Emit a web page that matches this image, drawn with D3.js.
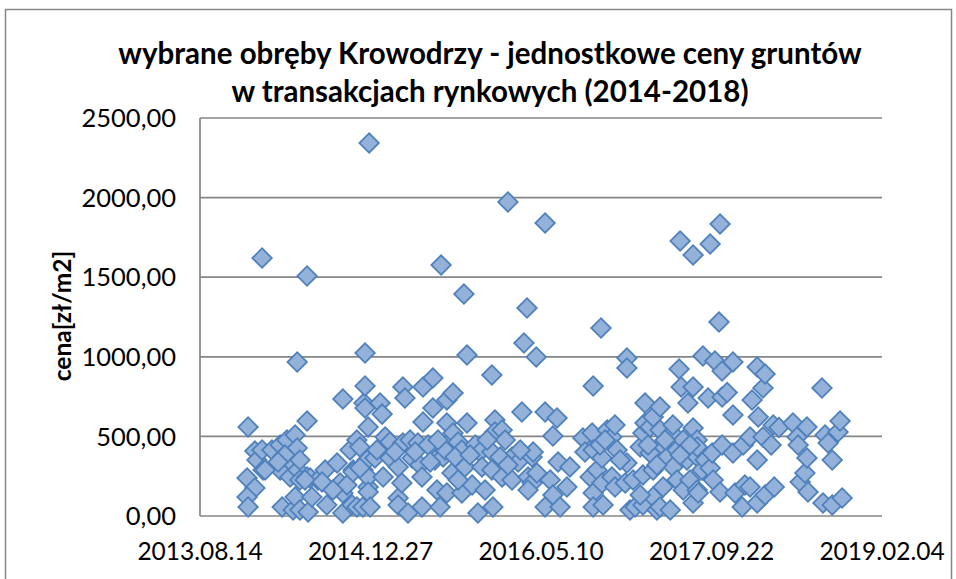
<!DOCTYPE html>
<html>
<head>
<meta charset="utf-8">
<title>Krowodrza - ceny gruntów</title>
<script src="https://d3js.org/d3.v7.min.js"></script>
<style>
  body { margin: 0; background: #fff; }
  text { font-family: Lato, "DejaVu Sans", sans-serif; fill: #000; }
</style>
</head>
<body>
<div id="chart"></div>
<script>
// data: transaction date (Excel serial day) and price [zł/m2]
var saleDay = [41638,41661,41638,41641,41641,41661,41667,41682,41682,41685,41711,41735,41735,41741,41743,41755,41764,41770,41773,41779,
  41779,41785,41785,41787,41793,41793,41793,41814,41814,41814,41817,41823,41828,41846,41867,41872,41902,41902,41911,41919,
  41919,41919,41931,41940,41946,41949,41960,41960,41969,41978,41978,41981,41984,41984,41984,41990,41993,41993,41993,41993,
  41996,41999,42013,42019,42028,42034,42037,42043,42057,42057,42081,42081,42081,42092,42095,42101,42095,42110,42116,42122,
  42139,42145,42151,42151,42154,42154,42169,42183,42183,42189,42195,42204,42207,42213,42219,42224,42224,42224,42239,42242,
  42242,42257,42268,42268,42274,42277,42283,42283,42298,42307,42315,42321,42327,42356,42356,42356,42359,42365,42365,42386,
  42386,42395,42403,42415,42415,42433,42444,42450,42459,42462,42474,42477,42474,42486,42488,42512,42512,42512,42527,42535,
  42535,42547,42550,42556,42576,42585,42623,42629,42644,42650,42653,42653,42653,42653,42664,42676,42679,42679,42682,42694,
  42708,42708,42717,42717,42723,42747,42752,42752,42752,42761,42770,42776,42791,42799,42799,42799,42805,42805,42820,42820,
  42829,42829,42829,42840,42849,42849,42849,42855,42858,42870,42879,42884,42887,42887,42899,42899,42905,42908,42911,42917,
  42917,42928,42931,42937,42946,42946,42946,42946,42958,42958,42958,42958,42961,42972,42975,42981,42990,42996,42996,43002,
  43005,43010,43022,43025,43025,43031,43031,43031,43046,43063,43063,43063,43069,43090,43093,43098,43113,43113,43119,43134,
  43134,43134,43137,43151,43151,43157,43157,43175,43181,43184,43198,43239,43251,43254,43260,43274,43280,43280,43283,43324,
  43327,43333,43342,43354,43354,43371,43377,43383,
  41691,41749,41729,41808,41858,41890,41949,41969,42072,42131,42175,42248,42292,42342,42380,42439,42403,42198,42257,42336,
  42462,42673,42732,42814,42864,42908,42937,42840,42791,42688];

var price = [239,176,119,57,559,408,352,415,1620,289,415,446,289,57,370,477,245,333,38,509,
  119,427,967,289,352,226,38,597,1507,245,25,239,119,226,289,69,333,182,207,735,
  19,144,195,415,69,289,477,57,433,289,57,710,678,816,1024,352,559,182,245,151,
  2343,57,364,415,710,640,245,496,364,465,308,113,69,207,810,741,458,19,477,364,
  458,320,245,57,810,590,446,678,867,352,163,57,1576,370,415,729,584,144,270,773,
  521,465,415,144,1394,308,1011,584,195,446,19,402,308,402,289,886,57,603,528,540,
  245,477,1972,370,226,339,653,1087,1306,245,370,402,207,999,270,1840,653,57,226,502,
  132,615,339,57,182,308,490,402,245,521,816,415,144,57,289,1181,364,207,69,540,
  496,245,572,182,415,207,333,992,930,38,226,57,433,521,258,69,710,584,396,559,
  622,289,119,38,685,540,57,446,182,370,38,521,572,308,415,226,923,1727,810,477,
  163,352,710,226,1639,810,553,82,477,370,163,433,144,289,1005,352,741,1708,301,396,
  226,974,1218,1834,151,911,747,446,776,967,634,396,144,57,446,195,496,182,729,936,
  352,82,622,804,496,892,132,446,572,182,556,584,496,446,214,270,559,364,151,804,
  82,509,458,352,69,528,597,113,
  289,383,339,226,214,163,276,301,402,402,339,370,383,477,370,415,320,477,226,163,
  163,446,352,446,477,383,446,320,132,477];

var xTicks = [41500, 42000, 42500, 43000, 43500];
var yTicks = [0, 500, 1000, 1500, 2000, 2500];
var titleLines = ["wybrane obręby Krowodrzy - jednostkowe ceny gruntów",
                  "w transakcjach rynkowych (2014-2018)"];
var yTitle = "cena[zł/m2]";

var width = 956, height = 579;
var plot = {left: 200, right: 882, top: 118, bottom: 516};

var svg = d3.select("#chart").append("svg")
    .attr("width", width)
    .attr("height", height);

// outer chart frame
svg.append("rect")
    .attr("x", 5.5).attr("y", 9.5)
    .attr("width", 946).attr("height", 600)
    .attr("fill", "#fff")
    .attr("stroke", "#878787")
    .attr("stroke-width", 1.5);

var x = d3.scaleLinear().domain([41500, 43500]).range([plot.left, plot.right]);
var y = d3.scaleLinear().domain([0, 2500]).range([plot.bottom, plot.top]);

var excelEpoch = Date.UTC(1899, 11, 30);
var fmtDate = d3.utcFormat("%Y.%m.%d");
function dayLabel(s) { return fmtDate(new Date(excelEpoch + s * 864e5)); }
function priceLabel(v) { return d3.format(".2f")(v).replace(".", ","); }

// horizontal gridlines
svg.append("g").selectAll("line")
    .data(yTicks)
  .enter().append("line")
    .attr("x1", plot.left).attr("x2", plot.right)
    .attr("y1", function(d) { return y(d); })
    .attr("y2", function(d) { return y(d); })
    .attr("stroke", "#868686")
    .attr("stroke-width", 1.7);

// y axis line
svg.append("line")
    .attr("x1", plot.left).attr("x2", plot.left)
    .attr("y1", plot.top).attr("y2", plot.bottom)
    .attr("stroke", "#868686").attr("stroke-width", 1.7);

svg.append("g").selectAll("text")
    .data(yTicks)
  .enter().append("text")
    .attr("x", 176)
    .attr("y", function(d) { return y(d); })
    .attr("dy", "0.36em")
    .attr("text-anchor", "end")
    .style("font-size", "25.5px")
    .text(priceLabel);

svg.append("g").selectAll("text")
    .data(xTicks)
  .enter().append("text")
    .attr("x", function(d) { return x(d); })
    .attr("y", 551)
    .attr("dy", "0.36em")
    .attr("text-anchor", "middle")
    .style("font-size", "24.5px")
    .text(dayLabel);

svg.append("text")
    .attr("transform", "translate(62,316) rotate(-90)")
    .attr("dy", "0.36em")
    .attr("text-anchor", "middle")
    .style("font-size", "24.5px")
    .style("font-weight", "bold")
    .text(yTitle);

var title = svg.append("g");
title.selectAll("text")
    .data(titleLines)
  .enter().append("text")
    .attr("x", 490)
    .attr("y", function(d, i) { return 64 + i * 38; })
    .attr("text-anchor", "middle")
    .style("font-size", "29.5px")
    .style("font-weight", "bold")
    .text(function(d) { return d; });

// markers: diamonds
var diamond = d3.symbol().type(d3.symbolSquare).size(190);
var points = saleDay.map(function(d, i) { return {day: d, price: price[i]}; });

svg.append("g").selectAll("path")
    .data(points)
  .enter().append("path")
    .attr("d", diamond)
    .attr("transform", function(d) {
      return "translate(" + x(d.day) + "," + y(d.price) + ") rotate(45)";
    })
    .attr("fill", "#93b1d9")
    .attr("stroke", "#4f81bd")
    .attr("stroke-width", 1.8);
</script>
</body>
</html>
